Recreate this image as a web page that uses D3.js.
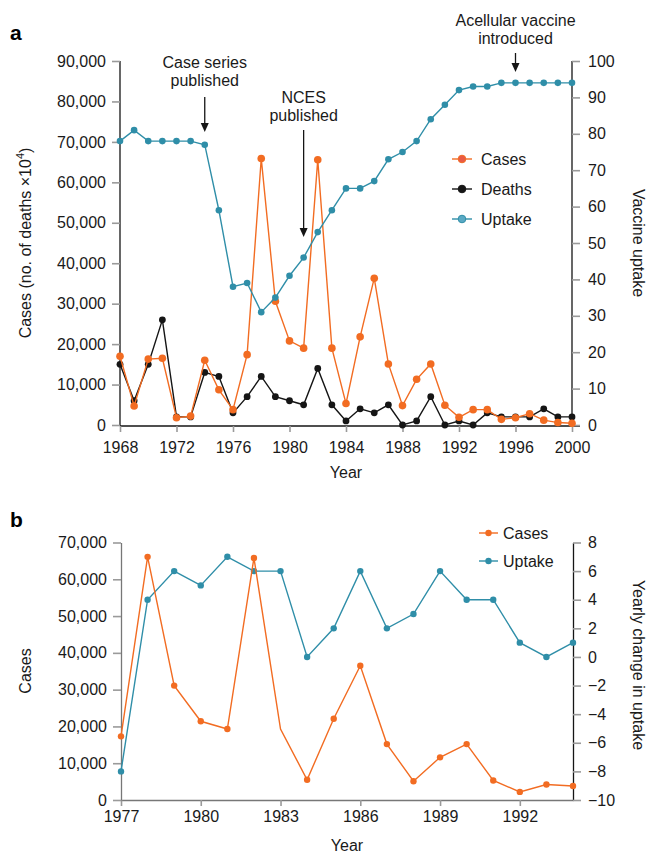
<!DOCTYPE html>
<html>
<head>
<meta charset="utf-8">
<script src="https://cdn.jsdelivr.net/npm/d3@7"></script>
<style>
  body { margin: 0; background: #fff; }
  svg { font-family: 'Liberation Sans', Arial, sans-serif; }
  .tick text { font-size: 16px; fill: #1a1a1a; }
  .axis-label, .legend-label, .note { font-size: 16px; fill: #1a1a1a; }
</style>
</head>
<body>
<svg width="646" height="853"></svg>
<script>
// panel a: yearly series 1968-2000
const yearsA = d3.range(1968, 2001);
const casesA = [17000, 4700, 16300, 16500, 1800, 2200, 16000, 8700, 3800, 17400,
  65900, 30600, 20800, 19000, 65600, 19000, 5300, 21800, 36300, 15100,
  4800, 11300, 15100, 4900, 1900, 3800, 3800, 1400, 1800, 2800,
  1200, 600, 450];
const deathsA = [15000, 6000, 15000, 26000, 2000, 2000, 13000, 12000, 3000, 7000,
  12000, 7000, 6000, 5000, 14000, 5000, 1000, 4000, 3000, 5000,
  0, 1000, 7000, 0, 1000, 0, 3000, 2000, 2000, 2000,
  4000, 2000, 2000];
const uptakeA = [78, 81, 78, 78, 78, 78, 77, 59, 38, 39,
  31, 35, 41, 46, 53, 59, 65, 65, 67, 73,
  75, 78, 84, 88, 92, 93, 93, 94, 94, 94,
  94, 94, 94];

const notesA = [
  { year: 1974, lines: ['Case series', 'published'], textY: 68, from: 97, to: 132 },
  { year: 1981, lines: ['NCES', 'published'], textY: 103, from: 130, to: 237 },
  { year: 1996, lines: ['Acellular vaccine', 'introduced'], textY: 26, from: 53, to: 72 }
];

// panel b: 1977-1994
const yearsB = d3.range(1977, 1995);
const casesB = [17300, 66100, 31100, 21400, 19300, 65800, 19300, 5500, 22100, 36500,
  15200, 5100, 11600, 15200, 5300, 2200, 4200, 3800];
const uptakeChangeB = [-8, 4, 6, 5, 7, 6, 6, 0, 2, 6, 2, 3, 6, 4, 4, 1, 0, 1];
const casesBNoMarker = [1983];

const orange = '#f26c22';
const teal = '#2f8ea8';
const black = '#151515';

const svg = d3.select('svg');

// ---------- panel a ----------
const xA = d3.scaleLinear().domain([1968, 2000]).range([120, 572]);
const yA = d3.scaleLinear().domain([0, 90000]).range([425, 61]);
const yA2 = d3.scaleLinear().domain([0, 100]).range([425, 61]);

const gA = svg.append('g');

const styleAxis = (sel, domainColor) => {
  sel.select('.domain').attr('stroke', domainColor).attr('stroke-width', 1.3);
  sel.selectAll('.tick line').attr('stroke', '#9a9a9a').attr('stroke-width', 1.6);
  sel.selectAll('.tick text').attr('font-family', null).attr('font-size', null);
};

gA.append('g')
    .attr('transform', 'translate(0,426)')
    .call(d3.axisBottom(xA).tickValues(d3.range(1968, 2001, 4)).tickFormat(d3.format('d'))
      .tickSize(6).tickSizeOuter(0).tickPadding(10))
    .call(sel => styleAxis(sel, black))
    .call(sel => sel.select('.domain').attr('d', 'M120,0H580'));

gA.append('g')
    .attr('transform', 'translate(120,0)')
    .call(d3.axisLeft(yA).ticks(9).tickFormat(d3.format(',')).tickSize(8).tickSizeOuter(0).tickPadding(6))
    .call(sel => styleAxis(sel, black))
    .call(sel => sel.select('.domain').attr('d', 'M0,61V426'));

gA.append('g')
    .attr('transform', 'translate(572,0)')
    .call(d3.axisRight(yA2).ticks(10).tickSize(8).tickSizeOuter(0).tickPadding(8))
    .call(sel => styleAxis(sel, black))
    .call(sel => sel.select('.domain').attr('d', 'M0,61V426'));

gA.append('text')
    .attr('class', 'axis-label')
    .attr('text-anchor', 'middle')
    .attr('transform', 'translate(31,243) rotate(-90)')
    .text('Cases (no. of deaths \u00d710')
    .append('tspan').attr('font-size', 11).attr('dy', -7).text('4')
    .select(function () { return this.parentNode; })
    .append('tspan').attr('dy', 7).text(')');

gA.append('text')
    .attr('class', 'axis-label')
    .attr('text-anchor', 'middle')
    .attr('transform', 'translate(633,243) rotate(90)')
    .text('Vaccine uptake');

gA.append('text')
    .attr('class', 'axis-label')
    .attr('x', 346).attr('y', 478)
    .attr('text-anchor', 'middle')
    .text('Year');

svg.append('text')
    .attr('x', 10).attr('y', 40)
    .attr('font-size', 21).attr('font-weight', 'bold')
    .text('a');

const drawSeries = (g, x, y, years, values, color, r, skip = []) => {
  const pts = years.map((yr, i) => ({ yr, v: values[i] }));
  g.append('path')
      .datum(pts)
      .attr('fill', 'none')
      .attr('stroke', color)
      .attr('stroke-width', 1.4)
      .attr('d', d3.line().x(d => x(d.yr)).y(d => y(d.v)));
  g.selectAll(null).data(pts.filter(d => !skip.includes(d.yr)))
      .enter().append('circle')
      .attr('cx', d => x(d.yr))
      .attr('cy', d => y(d.v))
      .attr('r', r)
      .attr('fill', color);
};

drawSeries(gA, xA, yA, yearsA, deathsA, black, 3.4);
drawSeries(gA, xA, yA, yearsA, casesA, orange, 3.8);
drawSeries(gA, xA, yA2, yearsA, uptakeA, teal, 3.3);

// annotations
notesA.forEach(n => {
  const cx = xA(n.year);
  const t = gA.append('text')
      .attr('class', 'note')
      .attr('text-anchor', 'middle')
      .attr('x', cx).attr('y', n.textY);
  n.lines.forEach((l, i) => t.append('tspan').attr('x', cx).attr('dy', i ? 18 : 0).text(l));
  gA.append('line')
      .attr('x1', cx).attr('x2', cx)
      .attr('y1', n.from).attr('y2', n.to - 6)
      .attr('stroke', black).attr('stroke-width', 1.3);
  gA.append('path')
      .attr('d', `M${cx - 4},${n.to - 9}L${cx + 4},${n.to - 9}L${cx},${n.to}Z`)
      .attr('fill', black);
});

// legend a
const legendA = [
  { name: 'Cases', color: orange, fill: '#e95a45' },
  { name: 'Deaths', color: black, fill: black },
  { name: 'Uptake', color: teal, fill: '#5aa9c4' }
];
const legA = gA.append('g').attr('transform', 'translate(452,159)');
legendA.forEach((d, i) => {
  const row = legA.append('g').attr('transform', `translate(0,${i * 30})`);
  row.append('line').attr('x1', 0).attr('x2', 20).attr('stroke', d.color).attr('stroke-width', 1.4);
  row.append('circle').attr('cx', 10).attr('r', 3.8).attr('fill', d.fill)
      .attr('stroke', d.color).attr('stroke-width', 1);
  row.append('text').attr('class', 'legend-label').attr('x', 29).attr('dy', '0.35em').text(d.name);
});

// ---------- panel b ----------
const xB = d3.scaleLinear().domain([1977, 1994]).range([121, 573]);
const yB = d3.scaleLinear().domain([0, 70000]).range([800, 542.5]);
const yB2 = d3.scaleLinear().domain([-10, 8]).range([800, 542.5]);

const gB = svg.append('g');

gB.append('g')
    .attr('transform', 'translate(0,800)')
    .call(d3.axisBottom(xB).tickValues(d3.range(1977, 1994, 3)).tickFormat(d3.format('d'))
      .tickSize(6).tickSizeOuter(0).tickPadding(5))
    .call(sel => styleAxis(sel, '#777'));

gB.append('g')
    .attr('transform', 'translate(121,0)')
    .call(d3.axisLeft(yB).ticks(7).tickFormat(d3.format(',')).tickSize(8).tickSizeOuter(0).tickPadding(6))
    .call(sel => styleAxis(sel, '#777'));

gB.append('g')
    .attr('transform', 'translate(573,0)')
    .call(d3.axisRight(yB2).tickValues(d3.range(-10, 9, 2)).tickSize(8).tickSizeOuter(0).tickPadding(7))
    .call(sel => styleAxis(sel, black));

gB.append('text')
    .attr('class', 'axis-label')
    .attr('text-anchor', 'middle')
    .attr('transform', 'translate(31,671) rotate(-90)')
    .text('Cases');

gB.append('text')
    .attr('class', 'axis-label')
    .attr('text-anchor', 'middle')
    .attr('transform', 'translate(633,665) rotate(90)')
    .text('Yearly change in uptake');

gB.append('text')
    .attr('class', 'axis-label')
    .attr('x', 347).attr('y', 851)
    .attr('text-anchor', 'middle')
    .text('Year');

svg.append('text')
    .attr('x', 10).attr('y', 527)
    .attr('font-size', 21).attr('font-weight', 'bold')
    .text('b');

drawSeries(gB, xB, yB2, yearsB, uptakeChangeB, teal, 3.2);
drawSeries(gB, xB, yB, yearsB, casesB, orange, 3.2, casesBNoMarker);

const legendB = [
  { name: 'Cases', color: orange },
  { name: 'Uptake', color: teal }
];
const legB = gB.append('g').attr('transform', 'translate(479,533)');
legendB.forEach((d, i) => {
  const row = legB.append('g').attr('transform', `translate(0,${i * 28})`);
  row.append('line').attr('x1', 0).attr('x2', 19).attr('stroke', d.color).attr('stroke-width', 1.4);
  row.append('circle').attr('cx', 9.5).attr('r', 3.2).attr('fill', d.color);
  row.append('text').attr('class', 'legend-label').attr('x', 24).attr('dy', '0.35em').text(d.name);
});
</script>
</body>
</html>
